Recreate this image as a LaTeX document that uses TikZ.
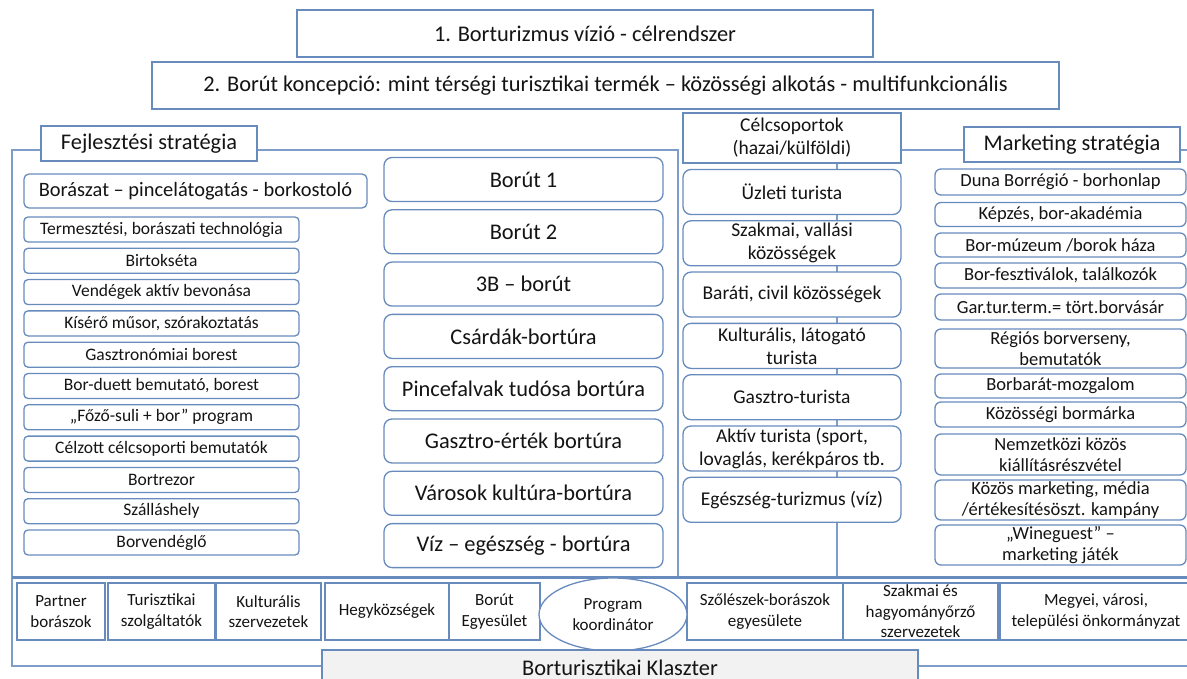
\documentclass[tikz,border=0pt]{standalone}
\usepackage{fontspec}
\setmainfont{Carlito}
\usepackage{tikz}
\usetikzlibrary{positioning, calc, shapes.geometric}
\definecolor{lineblue}{RGB}{104,139,189}
\definecolor{frameblue}{RGB}{126,158,201}
\definecolor{klaszgray}{RGB}{242,242,242}
\definecolor{txtdark}{RGB}{20,20,20}

\begin{document}
\begin{tikzpicture}[x=1pt,y=-1pt,box/.style={draw=lineblue, line width=1.3pt, fill=white, inner sep=0pt, align=center, text=txtdark},frame/.style={draw=frameblue, line width=1.3pt},bigfont/.style={font=\fontsize{22.4}{26}\selectfont},midfont/.style={font=\fontsize{19.5}{23}\selectfont},mkfont/.style={font=\fontsize{18.5}{21}\selectfont},smallfont/.style={font=\fontsize{17}{20.5}\selectfont}]
\useasboundingbox (0,0) rectangle (1187,679);
\draw[frame] (12,150) rectangle (678,577); \draw[frame] (837,150) rectangle (1195,577); \draw[frame] (12,577) rectangle (1195,666); \draw[frame, draw=lineblue, line width=3pt] (12,577) -- (1195,577);
\node[box, bigfont, minimum width=576pt, minimum height=47pt] (vision) at (585,33.5) {1. Borturizmus vízió - célrendszer};
\node[box, bigfont, minimum width=907pt, minimum height=47pt] (concept) at (605.5,85.5) {2. Borút koncepció: mint térségi turisztikai termék – közösségi alkotás - multifunkcionális};
\node[box, bigfont, minimum width=216pt, minimum height=35pt] (devlabel) at (149,143.5) {Fejlesztési stratégia};
\node[box, midfont, minimum width=218pt, minimum height=50pt] (targets) at (792,138) {Célcsoportok\\(hazai/külföldi)};
\node[box, bigfont, minimum width=216pt, minimum height=35pt] (mktlabel) at (1072,144.5) {Marketing stratégia};
\node[box, rounded corners=5pt, font=\fontsize{20.4}{24}\selectfont, minimum width=343pt, minimum height=34pt] (cellar) at (195.5,191) {Borászat – pincelátogatás - borkostoló};
\foreach \txt [count=\i from 0] in {{Termesztési, borászati technológia}, Birtokséta, Vendégek aktív bevonása, {Kísérő műsor, szórakoztatás}, Gasztronómiai borest, {Bor-duett bemutató, borest}, „Főző-suli + bor” program, Célzott célcsoporti bemutatók, Bortrezor, Szálláshely, Borvendéglő}
	\node[box, rounded corners=4pt, font=\fontsize{17.5}{20.5}\selectfont, minimum width=275pt, minimum height=25pt] (dev\i) at (161.5,{229.5+31.3*\i}) {\txt};
\foreach \txt [count=\i from 0] in {Borút 1, Borút 2, 3B – borút, Csárdák-bortúra, Pincefalvak tudósa bortúra, Gasztro-érték bortúra, Városok kultúra-bortúra, Víz – egészség - bortúra}
	\node[box, rounded corners=8pt, bigfont, minimum width=279pt, minimum height=44pt] (route\i) at (523.5,{179.5+52.3*\i}) {\txt};
\foreach \txt [count=\i from 0] in {Üzleti turista, {Szakmai, vallási\\közösségek}, {Baráti, civil közösségek}, {Kulturális, látogató\\turista}, Gasztro-turista, {Aktív turista (sport,\\lovaglás, kerékpáros tb.}, Egészség-turizmus (víz)}
	\node[box, rounded corners=8pt, midfont, minimum width=218pt, minimum height=45pt] (tg\i) at (792,{192+51.3*\i}) {\txt};
\foreach \yc/\h/\txt [count=\i from 0] in {182/26/{Duna Borrégió - borhonlap}, 214.5/24/{Képzés, bor-akadémia}, 245/24/{Bor-múzeum /borok háza}, 275.5/25/{Bor-fesztiválok, találkozók}, 307/26/{Gar.tur.term.= tört.borvásár}, 348.5/39/{Régiós borverseny,\\bemutatók}, 386/24/{Borbarát-mozgalom}, 414.5/25/{Közösségi bormárka}, 454.5/41/{Nemzetközi közös\\kiállításrészvétel}, 500/40/{Közös marketing, média\\/értékesítésöszt. kampány}, 545/40/{„Wineguest” –\\marketing játék}}
	\node[box, rounded corners=6pt, mkfont, minimum width=251pt, minimum height=\h*1pt] (mk\i) at (1060.5,\yc) {\txt};
\foreach \xc/\w/\txt [count=\i from 0] in {61/88/{Partner\\borászok}, 161.5/107/{Turisztikai\\szolgáltatók}, 268.5/105/{Kulturális\\szervezetek}, 387/124/{Hegyközségek}, 494.5/91/{Borút\\Egyesület}, 765/156/{Szőlészek-borászok\\egyesülete}, 920.5/155/{Szakmai és\\hagyományőrző\\szervezetek}, 1096/192/{Megyei, városi,\\települési önkormányzat}}
	\node[box, smallfont, minimum width=\w*1pt, minimum height=57pt] (pt\i) at (\xc,611.5) {\txt};
\node[box, ellipse, smallfont, minimum width=148pt, minimum height=73pt] (coord) at (613,614.5) {Program\\koordinátor};
\node[box, bigfont, fill=klaszgray, minimum width=596pt, minimum height=36pt] (cluster) at (620,668) {Borturisztikai Klaszter};
\end{tikzpicture}
\end{document}
